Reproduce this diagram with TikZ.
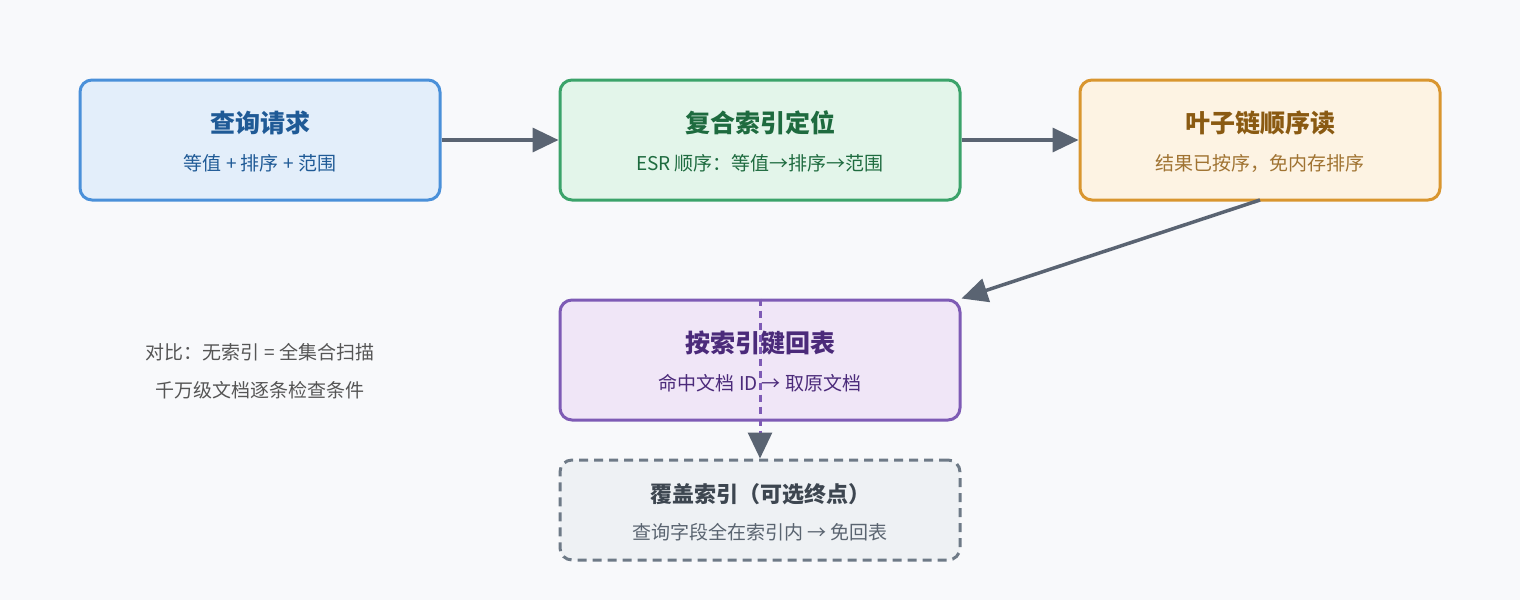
\documentclass[tikz,border=0pt]{standalone}
\usepackage{fontspec}
\setmainfont{Noto Sans CJK SC}
\usetikzlibrary{arrows.meta}
\definecolor{bg}{HTML}{F8F9FB}
\definecolor{arr}{HTML}{5A6472}
\tikzset{
 box/.style={draw, line width=3pt, rounded corners=12pt, minimum width=360pt, minimum height=120pt, align=center},
 ttl/.style={font=\fontsize{25}{30}\selectfont\bfseries},
 sub/.style={font=\fontsize{19}{24}\selectfont},
 con/.style={draw=arr, line width=3.5pt, -{Triangle[length=26pt,width=24pt]}},
}
\begin{document}
\begin{tikzpicture}[x=1pt,y=-1pt]
\fill[bg] (0,0) rectangle (1520,600);
\useasboundingbox (0,0) rectangle (1520,600);
\node[box, draw=blue!60!cyan!70!black, fill={rgb,255:red,227;green,238;blue,250}, draw={rgb,255:red,74;green,144;blue,217}] (a) at (260,140) {};
\node[ttl, text={rgb,255:red,31;green,90;blue,150}] at (260,123) {查询请求};
\node[sub, text={rgb,255:red,31;green,90;blue,150}] at (260,163) {等值 + 排序 + 范围};
\node[box, fill={rgb,255:red,227;green,245;blue,234}, draw={rgb,255:red,59;green,163;blue,106}, minimum width=400pt] (b) at (760,140) {};
\node[ttl, text={rgb,255:red,30;green,107;blue,63}] at (760,123) {复合索引定位};
\node[sub, text={rgb,255:red,30;green,107;blue,63}] at (760,163) {ESR 顺序：等值→排序→范围};
\node[box, fill={rgb,255:red,253;green,243;blue,227}, draw={rgb,255:red,217;green,150;blue,47}] (c) at (1260,140) {};
\node[ttl, text={rgb,255:red,138;green,90;blue,18}] at (1260,123) {叶子链顺序读};
\node[sub, text={rgb,255:red,160;green,115;blue,50}] at (1260,163) {结果已按序，免内存排序};
\node[box, fill={rgb,255:red,240;green,230;blue,247}, draw={rgb,255:red,126;green,91;blue,181}, minimum width=400pt] (d) at (760,360) {};
\node[ttl, text={rgb,255:red,75;green,42;blue,122}] at (760,343) {按索引键回表};
\node[sub, text={rgb,255:red,75;green,42;blue,122}] at (760,383) {命中文档 ID → 取原文档};
\node[box, fill={rgb,255:red,238;green,241;blue,244}, draw={rgb,255:red,110;green,122;blue,135}, dashed, dash pattern=on 9pt off 6pt, minimum width=400pt, minimum height=100pt] (e) at (760,510) {};
\node[ttl, font=\fontsize{22}{26}\selectfont\bfseries, text={rgb,255:red,61;green,70;blue,80}] at (760,494) {覆盖索引（可选终点）};
\node[sub, text={rgb,255:red,90;green,100;blue,112}] at (760,532) {查询字段全在索引内 → 免回表};
\node[sub, text={rgb,255:red,85;green,85;blue,85}] (n1) at (260,352) {对比：无索引 = 全集合扫描};
\node[sub, text={rgb,255:red,85;green,85;blue,85}] (n2) at (260,390) {千万级文档逐条检查条件};
\draw[con] (a.east) -- (b.west);
\draw[con] (b.east) -- (c.west);
\coordinate (cs) at (1260,200);
\draw[con] (cs) -- (d.north east);
\draw[draw={rgb,255:red,126;green,91;blue,181}, line width=3pt, dash pattern=on 7pt off 5pt, -{Triangle[length=26pt,width=24pt,fill=arr,color=arr]}] (d.north) -- (e.north);
\end{tikzpicture}
\end{document}
